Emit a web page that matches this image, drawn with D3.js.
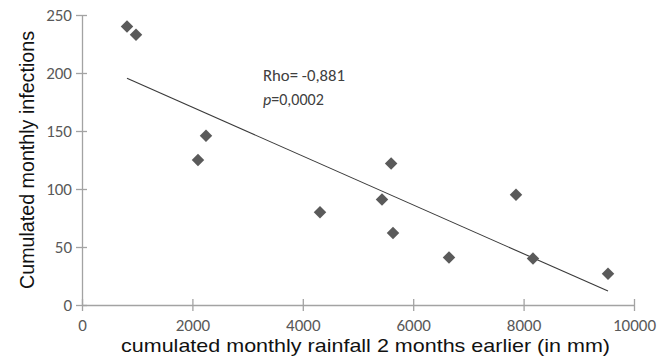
<!DOCTYPE html>
<html>
<head>
<meta charset="utf-8">
<script src="https://cdn.jsdelivr.net/npm/d3@7"></script>
<style>
    body { margin: 0; background: #fff; }
    svg { display: block; }
</style>
</head>
<body>
<svg id="vis" width="666" height="361"></svg>
<script>

// rainfall 2 months earlier (mm) and cumulated infections
const rainfall = [815, 978, 2246, 2101, 4312, 5435, 5600, 5634, 6649, 7862, 8170, 9529];
const infections = [240, 233, 146, 125, 80, 91, 122, 62, 41, 95, 40, 27];
const xTicks = [0, 2000, 4000, 6000, 8000, 10000];
const yTicks = [0, 50, 100, 150, 200, 250];
const statLines = ["Rho= -0,881", "p=0,0002"];

const svg = d3.select('#vis');
const axisColor = "#a3a3a3";
const tickFont = "Carlito, 'Open Sans', sans-serif";
const titleFont = "'Liberation Sans', Arial, sans-serif";

const x = d3.scaleLinear().domain([0, 10000]).range([82, 634]);
const y = d3.scaleLinear().domain([0, 250]).range([305, 15]);

// y axis
const yAxis = svg.append('g').attr('transform', 'translate(' + x(0) + ',0)')
    .call(d3.axisLeft(y).tickValues(yTicks).tickFormat(d3.format('d')).tickSizeOuter(0));
yAxis.selectAll('.tick line').attr('x1', -6).attr('x2', 5);

// x axis
const xAxis = svg.append('g').attr('transform', 'translate(0,' + y(0) + ')')
    .call(d3.axisBottom(x).tickValues(xTicks).tickFormat(d3.format('d')).tickSizeOuter(0));
xAxis.selectAll('.tick line').attr('y1', -6).attr('y2', 6);

[xAxis, yAxis].forEach(function (g) {
    g.select('.domain').attr('stroke', axisColor).attr('stroke-width', 1.3);
    g.selectAll('.tick line').attr('stroke', axisColor).attr('stroke-width', 1.3);
    g.selectAll('text')
        .attr('fill', '#595959')
        .attr('font-family', tickFont)
        .attr('font-size', 17);
});
xAxis.selectAll('text').attr('y', 26).attr('dy', 0);
yAxis.selectAll('text').attr('x', -10).attr('dy', '0.34em');

// least squares trend line
const mx = d3.mean(rainfall);
const my = d3.mean(infections);
let sxy = 0, sxx = 0;
rainfall.forEach(function (d, i) {
    sxy += (d - mx) * (infections[i] - my);
    sxx += (d - mx) * (d - mx);
});
const slope = sxy / sxx;
const intercept = my - slope * mx;
const x0 = d3.min(rainfall), x1 = d3.max(rainfall);

svg.append('line')
    .attr('x1', x(x0)).attr('y1', y(intercept + slope * x0))
    .attr('x2', x(x1)).attr('y2', y(intercept + slope * x1))
    .attr('stroke', '#3a3a3a')
    .attr('stroke-width', 1.1);

// points
svg.selectAll('.pt')
    .data(rainfall)
    .enter().append('path')
    .attr('class', 'pt')
    .attr('d', d3.symbol().type(d3.symbolSquare).size(78))
    .attr('transform', function (d, i) {
        return 'translate(' + x(d) + ',' + y(infections[i]) + ') rotate(45)';
    })
    .attr('fill', '#5a5a5a');

// stats text
svg.append('text')
    .attr('x', 263).attr('y', 81)
    .attr('font-family', tickFont)
    .attr('font-size', 16)
    .attr('fill', '#404040')
    .attr('textLength', 82)
    .attr('lengthAdjust', 'spacingAndGlyphs')
    .text(statLines[0]);

const pLine = svg.append('text')
    .attr('x', 263).attr('y', 105)
    .attr('font-family', tickFont)
    .attr('font-size', 16)
    .attr('fill', '#404040');
pLine.append('tspan').attr('font-style', 'italic').text(statLines[1].slice(0, 1));
pLine.append('tspan').text(statLines[1].slice(1));

// axis titles
svg.append('text')
    .attr('transform', 'translate(34,' + ((y(0) + y(250)) / 2) + ') rotate(-90)')
    .attr('text-anchor', 'middle')
    .attr('font-family', titleFont)
    .attr('font-size', 20)
    .attr('fill', '#111')
    .attr('textLength', 258)
    .attr('lengthAdjust', 'spacingAndGlyphs')
    .text('Cumulated monthly infections');

svg.append('text')
    .attr('x', 121)
    .attr('y', 352)
    .attr('font-family', titleFont)
    .attr('font-size', 19)
    .attr('fill', '#111')
    .attr('textLength', 489)
    .attr('lengthAdjust', 'spacingAndGlyphs')
    .text('cumulated monthly rainfall 2 months earlier (in mm)');

</script>
</body>
</html>
